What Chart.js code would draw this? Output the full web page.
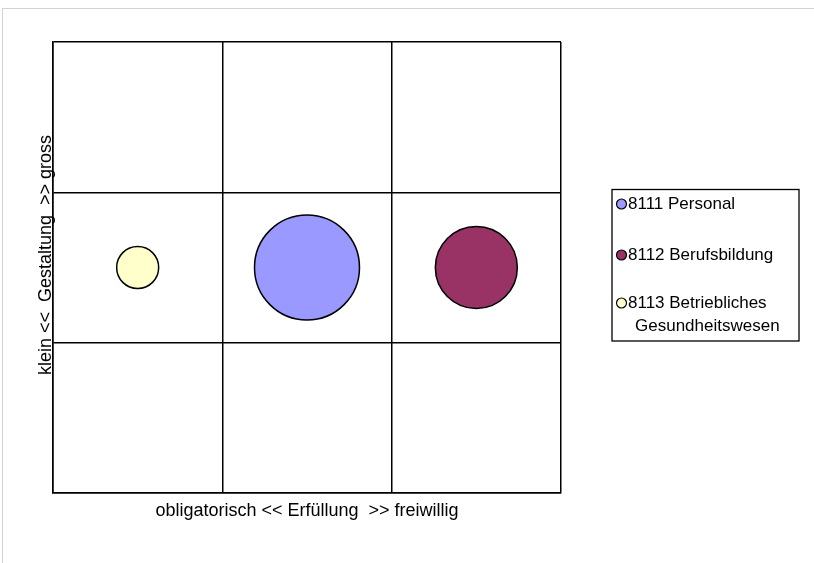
<!DOCTYPE html>
<html>
<head>
<meta charset="utf-8">
<script src="https://cdn.jsdelivr.net/npm/chart.js@4/dist/chart.umd.min.js"></script>
<style>
  html, body { margin: 0; padding: 0; background: #ffffff; overflow: hidden; }
  #wrap { position: relative; width: 814px; height: 563px; }
  #frame { position: absolute; left: 2px; top: 8px; width: 900px; height: 700px; border: 1px solid #d3d3d3; box-sizing: border-box; }
  #c { position: absolute; left: 0; top: 0; }
</style>
</head>
<body>
<div id="wrap">
  <div id="frame"></div>
  <canvas id="c" width="814" height="563"></canvas>
</div>
<script>
// ---- data ----
const seriesLabels = ['8111 Personal', '8112 Berufsbildung', '8113 Betriebliches\nGesundheitswesen'];
const seriesColors = ['#9999FF', '#993366', '#FFFFCC'];
const xValues = [1.5, 2.5, 0.5];   // Erfüllung (obligatorisch -> freiwillig)
const yValues = [1.5, 1.5, 1.5];   // Gestaltung (klein -> gross)
const bubbleSizes = [52.5, 41, 21];
const xTitle = 'obligatorisch << Erfüllung  >> freiwillig';
const yTitle = '     klein <<  Gestaltung  >> gross';
const axisMin = 0, axisMax = 3;

const datasets = seriesLabels.map((lab, i) => ({
  label: lab,
  data: [{ x: xValues[i], y: yValues[i], r: bubbleSizes[i] }],
  backgroundColor: seriesColors[i],
  borderColor: '#000000',
  borderWidth: 1.5,
  hoverRadius: 0
}));

const FONT = "'Liberation Sans', Arial, sans-serif";

const legendPlugin = {
  id: 'boxLegend',
  afterDraw(chart) {
    const ctx = chart.ctx;
    const bx = 612, by = 189.5, bw = 187, bh = 151.5;
    ctx.save();
    ctx.strokeStyle = '#000';
    ctx.lineWidth = 1.3;
    ctx.strokeRect(bx, by, bw, bh);
    ctx.font = '17px ' + FONT;
    ctx.textBaseline = 'middle';
    ctx.textAlign = 'left';
    ctx.fillStyle = '#000';
    const rows = [204, 255, 303];
    chart.data.datasets.forEach((ds, i) => {
      const y = rows[i];
      ctx.beginPath();
      ctx.arc(621.5, y, 5, 0, Math.PI * 2);
      ctx.fillStyle = ds.backgroundColor;
      ctx.fill();
      ctx.lineWidth = 1.2;
      ctx.strokeStyle = '#000';
      ctx.stroke();
      ctx.fillStyle = '#000';
      const lines = seriesLabels[i].split('\n');
      lines.forEach((ln, j) => {
        ctx.fillText(ln, j === 0 ? 628 : 635, y + j * 23);
      });
    });
    ctx.restore();
  }
};

const gridOpts = { color: '#000000', lineWidth: 1.5, drawTicks: false };
const borderOpts = { display: true, color: '#000000', width: 1.5 };

new Chart(document.getElementById('c'), {
  type: 'bubble',
  data: { datasets },
  options: {
    responsive: false,
    animation: false,
    devicePixelRatio: 1,
    layout: { autoPadding: false, padding: { left: 0, top: 42, right: 253, bottom: 0 } },
    plugins: { legend: { display: false }, tooltip: { enabled: false } },
    events: [],
    scales: {
      x: {
        type: 'linear', position: 'bottom',
        min: axisMin, max: axisMax,
        ticks: { display: false, stepSize: 1 },
        grid: gridOpts, border: borderOpts,
        title: { display: true, text: xTitle, color: '#000', font: { family: FONT, size: 18 }, padding: { top: 0, bottom: 41 } },
        afterFit(s) { s.height = 70; }
      },
      y: {
        type: 'linear', position: 'left',
        min: axisMin, max: axisMax,
        ticks: { display: false, stepSize: 1 },
        grid: gridOpts, border: borderOpts,
        title: { display: true, text: yTitle, color: '#000', font: { family: FONT, size: 18 }, padding: { top: 35, bottom: 0 } },
        afterFit(s) { s.width = 53; }
      }
    }
  },
  plugins: [legendPlugin]
});
</script>
</body>
</html>
